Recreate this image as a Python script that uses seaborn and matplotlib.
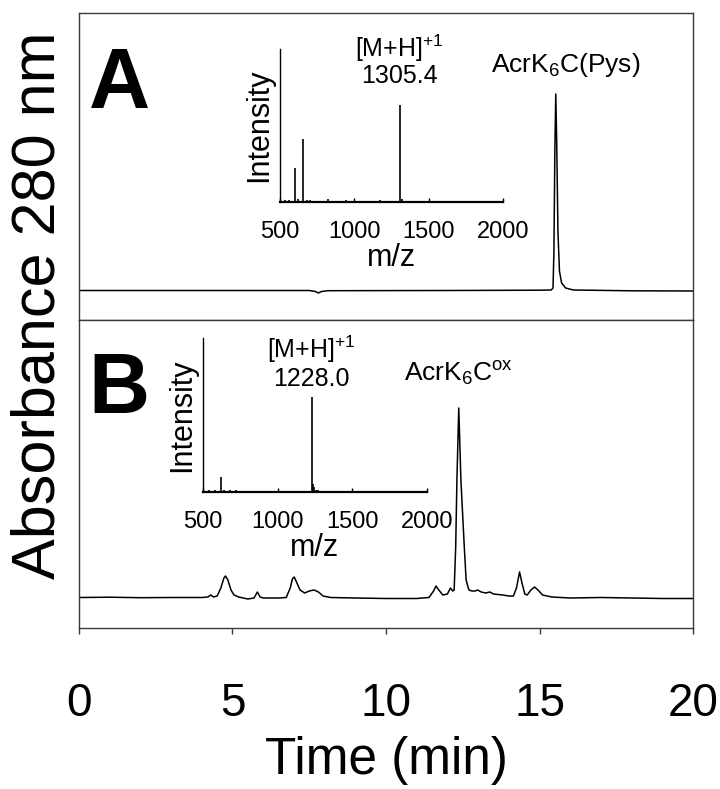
import numpy as np
import pandas as pd
import matplotlib
matplotlib.use("Agg")
import matplotlib.pyplot as plt
import seaborn as sns

sns.set_theme(style="white")
plt.rcParams['font.family'] = ['Liberation Sans', 'DejaVu Sans']
plt.rcParams['mathtext.fontset'] = 'custom'
plt.rcParams['mathtext.rm'] = 'Liberation Sans'
plt.rcParams['mathtext.it'] = 'Liberation Sans:italic'
plt.rcParams['text.color'] = 'black'
plt.rcParams['axes.labelcolor'] = 'black'
plt.rcParams['xtick.color'] = 'black'
plt.rcParams['ytick.color'] = 'black'

# ---------------- data ----------------
# Chromatogram A (time in min, absorbance in arbitrary units)
time_A = [0.0, 3.0, 7.5, 7.7, 7.8, 7.9, 8.1, 12.0, 15.0, 15.38, 15.44, 15.47, 15.50,
          15.53, 15.56, 15.60, 15.65, 15.72, 15.85, 16.1, 18.0, 20.0]
abs_A = [0.5, 0.5, 0.5, -0.5, -2.0, -0.5, 0.3, 0.5, 0.8, 1.0, 3.0, 40.0, 140.0,
         197.0, 150.0, 60.0, 20.0, 8.0, 3.0, 1.0, 0.2, 0.0]

# Chromatogram B
time_B = [0.0, 1.0, 2.0, 3.0, 4.0, 4.2, 4.29, 4.38, 4.5, 4.62, 4.72, 4.77, 4.85,
          4.95, 5.05, 5.2, 5.5, 5.7, 5.81, 5.9, 6.0, 6.5, 6.75, 6.88, 6.95, 7.01,
          7.1, 7.2, 7.35, 7.5, 7.66, 7.8, 7.95, 8.2, 9.0, 10.0, 11.0, 11.4, 11.55,
          11.63, 11.72, 11.85, 12.0, 12.1, 12.17, 12.22, 12.27, 12.31, 12.37,
          12.44, 12.55, 12.61, 12.7, 12.8, 12.9, 12.99, 13.1, 13.25, 13.38, 13.5,
          13.8, 14.0, 14.15, 14.25, 14.35, 14.43, 14.52, 14.6, 14.72, 14.84, 14.95,
          15.1, 15.4, 16.0, 17.0, 18.0, 19.0, 20.0]
abs_B = [0.5, 0.8, 0.3, 0.5, 0.5, 1.0, 3.0, 1.0, 2.0, 10.0, 20.0, 22.0, 18.0,
         8.0, 3.0, 1.0, -1.0, 0.0, 6.0, 1.0, 0.0, 0.0, 0.5, 10.0, 19.0, 21.0,
         15.0, 8.0, 5.0, 7.0, 8.0, 6.0, 2.0, 0.5, 0.0, -0.5, -0.5, 0.5, 7.0,
         12.0, 8.0, 3.0, 4.0, 10.0, 7.0, 8.0, 51.0, 118.0, 190.0,
         118.0, 51.0, 18.0, 8.0, 7.0, 7.0, 8.0, 6.0, 5.0, 6.0, 4.0,
         3.0, 2.0, 2.0, 10.0, 26.0, 15.0, 4.0, 3.0, 8.0, 11.0, 8.0,
         3.0, 1.0, 0.0, 0.5, 0.0, -0.5, -0.5]

# Mass spectra (m/z, relative intensity)
mz_A = [534, 560, 601, 620, 655, 680, 700, 823, 944, 1173, 1305, 1318]
int_A = [0.01, 0.01, 0.22, 0.02, 0.41, 0.015, 0.01, 0.02, 0.015, 0.015, 0.634, 0.02]
mz_B = [540, 580, 620, 640, 680, 720, 900, 1228, 1236, 1245, 1255, 1270]
int_B = [0.01, 0.01, 0.10, 0.015, 0.01, 0.01, 0.005, 0.62, 0.05, 0.03, 0.015, 0.01]

time_ticks = [0, 5, 10, 15, 20]
mz_ticks = [500, 1000, 1500, 2000]

# ---------------- figure ----------------
W, H = 720, 789
fig = plt.figure(figsize=(W / 100, H / 100), dpi=100)

def rect(x0, y0, x1, y1):
    return [x0 / W, 1 - y1 / H, (x1 - x0) / W, (y1 - y0) / H]

axA = fig.add_axes(rect(79, 13, 693, 320))
axB = fig.add_axes(rect(79, 320, 693, 628))

frame_col = '#3a3a3a'
for ax, t, a, ylim in [(axA, time_A, abs_A, (-29, 278)), (axB, time_B, abs_B, (-30, 278))]:
    df = pd.DataFrame({'t': t, 'a': a})
    sns.lineplot(data=df, x='t', y='a', ax=ax, color='black', linewidth=1.1,
                 estimator=None, sort=False)
    ax.set_xlim(0, 20)
    ax.set_ylim(*ylim)
    ax.set_xlabel('')
    ax.set_ylabel('')
    ax.set_yticks([])
    for s in ax.spines.values():
        s.set_color(frame_col)
        s.set_linewidth(1.0)
        s.set_visible(True)

axA.set_xticks([])
axB.set_xticks(time_ticks)
axB.set_xticklabels([str(v) for v in time_ticks])
axB.tick_params(axis='x', direction='out', length=4, width=1.0, color=frame_col,
                labelcolor='black', labelsize=33, pad=35, bottom=True)
axB.set_xlabel('Time (min)', fontsize=37, labelpad=7, color='black')

fig.text(39 / W, 1 - 305 / H, 'Absorbance 280 nm', rotation=90, fontsize=44,
         ha='center', va='center', color='black')

# panel letters
axA.text(0.016, (320 - 108) / 307, 'A', transform=axA.transAxes, fontsize=61,
         fontweight='bold', ha='left', va='baseline', color='black')
axB.text(0.016, (628 - 413) / 308, 'B', transform=axB.transAxes, fontsize=61,
         fontweight='bold', ha='left', va='baseline', color='black')

# peak labels
axA.text(15.86, 219, r'AcrK$_6$C(Pys)', fontsize=19, ha='center', va='baseline')
axB.text(12.35, 216, r'AcrK$_6$C$^{\mathrm{ox}}$', fontsize=19, ha='center', va='baseline')

# ---------------- insets ----------------
insA = fig.add_axes(rect(280, 49, 503, 202))
insB = fig.add_axes(rect(203, 338, 427, 492))

for ins, mz, inten, pk, lab, yb1, yb2 in [
        (insA, mz_A, int_A, 1305, '1305.4', 0.948, 0.778),
        (insB, mz_B, int_B, 1228, '1228.0', 0.87, 0.69)]:
    ins.patch.set_alpha(0)
    ins.vlines(mz, 0, inten, color='black', linewidth=1.2)
    ins.set_xlim(500, 2000)
    ins.set_ylim(0, 1)
    ins.set_yticks([])
    ins.set_xticks(mz_ticks)
    ins.set_xticklabels([str(v) for v in mz_ticks])
    ins.tick_params(axis='x', direction='in', length=3, width=1.0, color='black',
                    labelcolor='black', labelsize=17, pad=14, bottom=True)
    for side in ['top', 'right']:
        ins.spines[side].set_visible(False)
    ins.spines['left'].set_color('black')
    ins.spines['left'].set_linewidth(1.0)
    ins.spines['bottom'].set_color('black')
    ins.spines['bottom'].set_linewidth(1.6)
    ins.set_xlabel('m/z', fontsize=22, labelpad=0, color='black')
    ins.set_ylabel('Intensity', fontsize=22, labelpad=4, color='black')
    ins.annotate(r'[M+H]$^{+1}$', xy=(pk, yb1), xycoords=('data', 'axes fraction'),
                 fontsize=18, ha='center', va='baseline', annotation_clip=False)
    ins.annotate(lab, xy=(pk, yb2), xycoords=('data', 'axes fraction'),
                 fontsize=18, ha='center', va='baseline', annotation_clip=False)

fig.savefig('out.png', dpi=100)
